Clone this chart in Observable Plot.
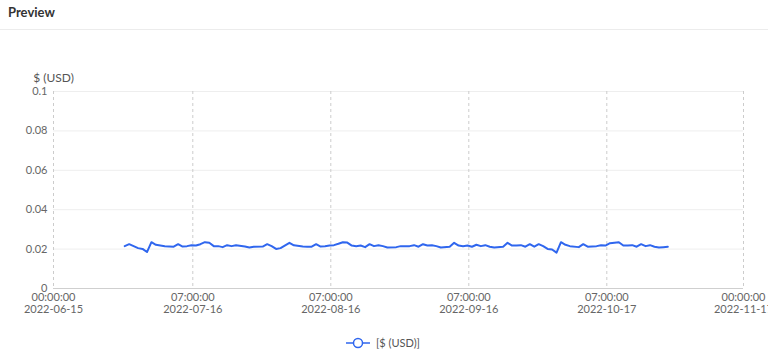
<!DOCTYPE html>
<html>
<head>
<meta charset="utf-8">
<script src="https://cdn.jsdelivr.net/npm/d3@7"></script>
<script src="https://cdn.jsdelivr.net/npm/@observablehq/plot@0.6"></script>
<style>
  html, body { margin: 0; padding: 0; background: #fff; font-family: Lato, "Open Sans", sans-serif; }
  #header { height: 30px; box-sizing: border-box; border-bottom: 1px solid #ececec; padding: 4px 0 0 8px; font-size: 13px; font-weight: bold; color: #333; }
  #chart svg { display: block; overflow: visible; }
  #legend { height: 25px; display: flex; justify-content: center; align-items: center; font-size: 11px; color: #555; padding-right: 2px; }
  #legend span { margin-left: 6px; }
</style>
</head>
<body>
<div id="header">Preview</div>
<div id="chart"></div>
<div id="legend"></div>
<script>
// ---- data ----
const seriesName = "$ (USD)";
const dates = [
  "2022-07-01","2022-07-02","2022-07-04","2022-07-05","2022-07-06","2022-07-07","2022-07-08","2022-07-10",
  "2022-07-12","2022-07-13","2022-07-14","2022-07-15","2022-07-16","2022-07-17","2022-07-18","2022-07-19",
  "2022-07-20","2022-07-21","2022-07-22","2022-07-23","2022-07-24","2022-07-25","2022-07-26","2022-07-28",
  "2022-07-29","2022-07-30","2022-08-01","2022-08-02","2022-08-03","2022-08-04","2022-08-05","2022-08-07",
  "2022-08-08","2022-08-10","2022-08-11","2022-08-12","2022-08-13","2022-08-14","2022-08-15","2022-08-16",
  "2022-08-17","2022-08-18","2022-08-19","2022-08-20","2022-08-21","2022-08-22","2022-08-23","2022-08-24",
  "2022-08-25","2022-08-26","2022-08-27","2022-08-28","2022-08-29","2022-08-31","2022-09-01","2022-09-03",
  "2022-09-04","2022-09-05","2022-09-06","2022-09-07","2022-09-08","2022-09-09","2022-09-10","2022-09-12",
  "2022-09-13","2022-09-14","2022-09-15","2022-09-16","2022-09-17","2022-09-18","2022-09-19","2022-09-20",
  "2022-09-21","2022-09-22","2022-09-24","2022-09-25","2022-09-26","2022-09-27","2022-09-28","2022-09-29",
  "2022-09-30","2022-10-01","2022-10-02","2022-10-03","2022-10-04","2022-10-05","2022-10-06","2022-10-07",
  "2022-10-08","2022-10-09","2022-10-11","2022-10-12","2022-10-13","2022-10-15","2022-10-16","2022-10-17",
  "2022-10-18","2022-10-20","2022-10-21","2022-10-22","2022-10-23","2022-10-24","2022-10-25","2022-10-26",
  "2022-10-27","2022-10-28","2022-10-29","2022-10-30","2022-10-31"
];
const values = [
  0.0215,0.0225,0.0205,0.0201,0.0185,0.0235,0.0222,0.0215,
  0.0212,0.0225,0.0213,0.0215,0.0220,0.0218,0.0225,0.0235,
  0.0232,0.0215,0.0215,0.0210,0.0220,0.0215,0.0220,0.0213,
  0.0208,0.0212,0.0213,0.0225,0.0215,0.0201,0.0205,0.0232,
  0.0219,0.0213,0.0212,0.0212,0.0225,0.0213,0.0215,0.0218,
  0.0220,0.0227,0.0235,0.0233,0.0218,0.0215,0.0218,0.0210,
  0.0225,0.0215,0.0220,0.0215,0.0208,0.0210,0.0215,0.0215,
  0.0220,0.0212,0.0225,0.0218,0.0220,0.0215,0.0208,0.0212,
  0.0232,0.0218,0.0215,0.0218,0.0212,0.0222,0.0215,0.0220,
  0.0212,0.0208,0.0212,0.0232,0.0218,0.0218,0.0220,0.0212,
  0.0225,0.0212,0.0225,0.0215,0.0201,0.0198,0.0182,0.0235,
  0.0222,0.0215,0.0210,0.0225,0.0212,0.0215,0.0220,0.0218,
  0.0230,0.0235,0.0218,0.0218,0.0220,0.0212,0.0225,0.0215,
  0.0220,0.0212,0.0208,0.0210,0.0212
];
const xDomain = ["2022-06-15T00:00:00Z", "2022-11-17T00:00:00Z"];
const xTicks = ["2022-06-15T00:00:00Z","2022-07-16T07:00:00Z","2022-08-16T07:00:00Z","2022-09-16T07:00:00Z","2022-10-17T07:00:00Z","2022-11-17T00:00:00Z"];
const xTickTimes = ["00:00:00","07:00:00","07:00:00","07:00:00","07:00:00","00:00:00"];
const xTickDates = ["2022-06-15","2022-07-16","2022-08-16","2022-09-16","2022-10-17","2022-11-17"];
const yTicks = [0, 0.02, 0.04, 0.06, 0.08, 0.1];
const yTickLabels = ["0","0.02","0.04","0.06","0.08","0.1"];

// ---- build ----
const lineColor = "#2f66ee";
const data = dates.map((d, i) => ({date: new Date(d + "T00:00:00Z"), value: values[i]}));
const xTickDatesObj = xTicks.map(t => new Date(t));
const timeLabel = new Map(xTickDatesObj.map((d, i) => [+d, xTickTimes[i]]));
const dateLabel = new Map(xTickDatesObj.map((d, i) => [+d, xTickDates[i]]));
const yLabel = new Map(yTicks.map((v, i) => [v, yTickLabels[i]]));

const chart = Plot.plot({
  width: 768,
  height: 300,
  marginTop: 61,
  marginBottom: 42,
  marginLeft: 53,
  marginRight: 25,
  style: {fontFamily: "Lato, 'Open Sans', sans-serif", fontSize: "11px", color: "#666", background: "transparent"},
  x: {type: "utc", domain: xDomain.map(d => new Date(d)), label: null},
  y: {domain: [0, 0.1], label: null},
  marks: [
    Plot.ruleY(yTicks.filter(v => v > 0), {stroke: "#eeeeee", strokeWidth: 1}),
    Plot.ruleX(xTickDatesObj, {stroke: "#cccccc", strokeDasharray: "3,3", strokeWidth: 1}),
    Plot.ruleY([0], {stroke: "#cfcfcf", strokeWidth: 1}),
    Plot.axisY({ticks: yTicks, tickFormat: d => yLabel.get(d), tickSize: 0, tickPadding: 6, label: null}),
    Plot.axisX({ticks: xTickDatesObj, tickFormat: d => timeLabel.get(+d), tickSize: 0, tickPadding: 5, label: null}),
    Plot.axisX({ticks: xTickDatesObj, tickFormat: d => dateLabel.get(+d), tickSize: 0, tickPadding: 17, label: null}),
    Plot.line(data, {x: "date", y: "value", stroke: lineColor, strokeWidth: 2, curve: "linear"}),
    Plot.text([seriesName], {frameAnchor: "top-left", dy: -18, textAnchor: "middle", fill: "#555", fontSize: 12})
  ]
});
document.getElementById("chart").appendChild(chart);

// legend
const legend = document.getElementById("legend");
legend.innerHTML = `<svg width="24" height="12"><line x1="0" y1="6" x2="24" y2="6" stroke="${lineColor}" stroke-width="1.5"/><circle cx="12" cy="6" r="4.5" fill="#fff" stroke="${lineColor}" stroke-width="1.5"/></svg><span>[${seriesName}]</span>`;
</script>
</body>
</html>
